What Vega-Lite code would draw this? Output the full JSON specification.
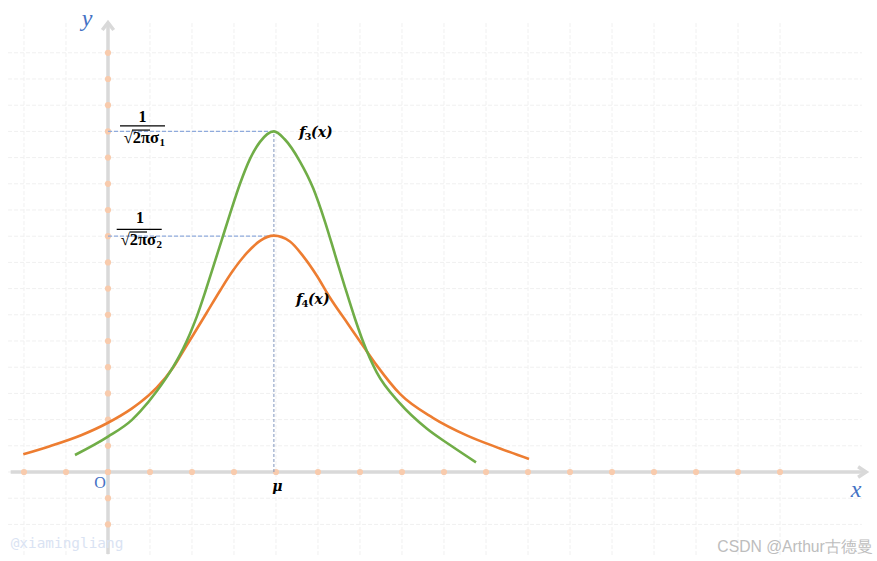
{
  "$schema": "https://vega.github.io/schema/vega-lite/v6.json",
  "width": 877,
  "height": 561,
  "autosize": "none",
  "padding": 0,
  "background": "white",
  "config": {"view": {"stroke": null}},
  "datasets": {
    "xt": [{"x":-2},{"x":-1},{"x":0},{"x":1},{"x":2},{"x":3},{"x":4},{"x":5},{"x":6},{"x":7},{"x":8},{"x":9},{"x":10},{"x":11},{"x":12},{"x":13},{"x":14},{"x":15},{"x":16}],
    "yt": [{"y":-2},{"y":-1},{"y":0},{"y":1},{"y":2},{"y":3},{"y":4},{"y":5},{"y":6},{"y":7},{"y":8},{"y":9},{"y":10},{"y":11},{"y":12},{"y":13},{"y":14},{"y":15},{"y":16}],
    "axes": [
      {"x":-2.317,"x2":18.05,"y":0,"y2":0},
      {"x":0,"x2":0,"y":-3.13,"y2":17.15}
    ],
    "refs": [
      {"x":0,"x2":3.95,"y":13,"y2":13},
      {"x":0,"x2":3.95,"y":9,"y2":9}
    ],
    "vref": [{"x":3.95,"x2":3.95,"y":0,"y2":13}],
    "bars": [
      {"x":0.286,"x2":1.357,"y":13.21,"y2":13.21},
      {"x":0.207,"x2":1.279,"y":9.26,"y2":9.26},
      {"x":0.571,"x2":1.0,"y":13.05,"y2":13.05},
      {"x":0.512,"x2":0.929,"y":9.16,"y2":9.16}
    ],
    "curves": [
      {"s":"f4","x":-2.017,"y":0.676},
      {"s":"f4","x":-1.421,"y":0.966},
      {"s":"f4","x":-0.626,"y":1.412},
      {"s":"f4","x":0,"y":1.88},
      {"s":"f4","x":0.564,"y":2.42},
      {"s":"f4","x":0.762,"y":2.65},
      {"s":"f4","x":1.16,"y":3.22},
      {"s":"f4","x":1.555,"y":4.0},
      {"s":"f4","x":1.793,"y":4.62},
      {"s":"f4","x":2.031,"y":5.24},
      {"s":"f4","x":2.35,"y":6.08},
      {"s":"f4","x":2.667,"y":6.92},
      {"s":"f4","x":2.964,"y":7.66},
      {"s":"f4","x":3.302,"y":8.35},
      {"s":"f4","x":3.619,"y":8.82},
      {"s":"f4","x":3.95,"y":9.02},
      {"s":"f4","x":4.333,"y":8.8},
      {"s":"f4","x":4.65,"y":8.23},
      {"s":"f4","x":4.969,"y":7.5},
      {"s":"f4","x":5.286,"y":6.65},
      {"s":"f4","x":5.714,"y":5.65},
      {"s":"f4","x":6.079,"y":4.8},
      {"s":"f4","x":6.398,"y":4.07},
      {"s":"f4","x":6.952,"y":2.98},
      {"s":"f4","x":7.745,"y":2.06},
      {"s":"f4","x":8.54,"y":1.4},
      {"s":"f4","x":9.333,"y":0.9},
      {"s":"f4","x":10.024,"y":0.496},
      {"s":"f3","x":-0.786,"y":0.649},
      {"s":"f3","x":0,"y":1.35},
      {"s":"f3","x":0.564,"y":1.98},
      {"s":"f3","x":0.762,"y":2.3},
      {"s":"f3","x":1.16,"y":3.08},
      {"s":"f3","x":1.555,"y":4.02},
      {"s":"f3","x":1.793,"y":4.72},
      {"s":"f3","x":1.952,"y":5.28},
      {"s":"f3","x":2.112,"y":5.92},
      {"s":"f3","x":2.31,"y":6.85},
      {"s":"f3","x":2.469,"y":7.65},
      {"s":"f3","x":2.707,"y":8.85},
      {"s":"f3","x":2.905,"y":9.85},
      {"s":"f3","x":3.143,"y":11.0},
      {"s":"f3","x":3.381,"y":11.95},
      {"s":"f3","x":3.619,"y":12.6},
      {"s":"f3","x":3.952,"y":13.0},
      {"s":"f3","x":4.207,"y":12.7},
      {"s":"f3","x":4.571,"y":11.85},
      {"s":"f3","x":4.888,"y":10.82},
      {"s":"f3","x":5.167,"y":9.55},
      {"s":"f3","x":5.405,"y":8.3},
      {"s":"f3","x":5.643,"y":7.05},
      {"s":"f3","x":5.881,"y":5.85},
      {"s":"f3","x":6.079,"y":4.95},
      {"s":"f3","x":6.398,"y":3.8},
      {"s":"f3","x":6.952,"y":2.62},
      {"s":"f3","x":7.588,"y":1.66},
      {"s":"f3","x":8.143,"y":1.03},
      {"s":"f3","x":8.762,"y":0.37}
    ],
    "labels": [
      {"k":"axis","x":-0.5,"y":17.02,"t":"y"},
      {"k":"axis","x":17.81,"y":-0.943,"t":"x"},
      {"k":"origin","x":-0.19,"y":-0.62,"t":"O"},
      {"k":"mu","x":4.03,"y":-0.725,"t":"μ"},
      {"k":"num","x":0.82,"y":13.37,"t":"1"},
      {"k":"num","x":0.762,"y":9.49,"t":"1"},
      {"k":"wm1","x":-2.317,"y":-2.9,"t":"@xiamingliang"},
      {"k":"wm2","x":18.21,"y":-3.04,"t":"CSDN @Arthur古德曼"}
    ],
    "fn": [
      {"x":4.81,"y":12.805,"sub":"3"},
      {"x":4.738,"y":6.393,"sub":"4"}
    ],
    "den": [
      {"x":1.214,"y":12.546,"sub":"1"},
      {"x":1.143,"y":8.664,"sub":"2"}
    ]
  },
  "layer": [
    {
      "data": {"name": "xt"},
      "mark": {"type": "rule", "color": "#f0f0f0", "strokeWidth": 1, "strokeDash": [4, 2]},
      "encoding": {
        "x": {"field": "x", "type": "quantitative", "scale": {"domain": [-2.5714, 18.3095], "nice": false, "zero": false}, "axis": null},
        "y": {"datum": -3.17, "type": "quantitative", "scale": {"domain": [-3.397, 18.015], "nice": false, "zero": false}, "axis": null},
        "y2": {"datum": 17.15}
      }
    },
    {
      "data": {"name": "yt"},
      "mark": {"type": "rule", "color": "#f0f0f0", "strokeWidth": 1, "strokeDash": [4, 2]},
      "encoding": {
        "x": {"datum": -2.38, "type": "quantitative", "scale": {"domain": [-2.5714, 18.3095], "nice": false, "zero": false}, "axis": null},
        "x2": {"datum": 17.95},
        "y": {"field": "y", "type": "quantitative", "scale": {"domain": [-3.397, 18.015], "nice": false, "zero": false}, "axis": null}
      }
    },
    {
      "data": {"name": "axes"},
      "mark": {"type": "rule", "color": "#d9d9d9", "strokeWidth": 3.5},
      "encoding": {
        "x": {"field": "x", "type": "quantitative", "scale": {"domain": [-2.5714, 18.3095], "nice": false, "zero": false}, "axis": null},
        "y": {"field": "y", "type": "quantitative", "scale": {"domain": [-3.397, 18.015], "nice": false, "zero": false}, "axis": null},
        "x2": {"field": "x2"},
        "y2": {"field": "y2"}
      }
    },
    {
      "data": {"values": [{"a": 1}]},
      "mark": {"type": "point", "shape": "M-1,-0.65L0,0L-1,0.65", "size": 256, "filled": false, "color": "#d9d9d9", "strokeWidth": 3.5, "opacity": 1},
      "encoding": {
        "x": {"datum": 18.05, "type": "quantitative", "scale": {"domain": [-2.5714, 18.3095], "nice": false, "zero": false}, "axis": null},
        "y": {"datum": 0, "type": "quantitative", "scale": {"domain": [-3.397, 18.015], "nice": false, "zero": false}, "axis": null}
      }
    },
    {
      "data": {"values": [{"a": 1}]},
      "mark": {"type": "point", "shape": "M-0.78,1L0,0L0.78,1", "size": 213, "filled": false, "color": "#d9d9d9", "strokeWidth": 3.5, "opacity": 1},
      "encoding": {
        "x": {"datum": 0, "type": "quantitative", "scale": {"domain": [-2.5714, 18.3095], "nice": false, "zero": false}, "axis": null},
        "y": {"datum": 17.15, "type": "quantitative", "scale": {"domain": [-3.397, 18.015], "nice": false, "zero": false}, "axis": null}
      }
    },
    {
      "data": {"name": "xt"},
      "mark": {"type": "circle", "color": "#f8cbad", "size": 38, "opacity": 1},
      "encoding": {
        "x": {"field": "x", "type": "quantitative", "scale": {"domain": [-2.5714, 18.3095], "nice": false, "zero": false}, "axis": null},
        "y": {"datum": 0, "type": "quantitative", "scale": {"domain": [-3.397, 18.015], "nice": false, "zero": false}, "axis": null}
      }
    },
    {
      "data": {"name": "yt"},
      "mark": {"type": "circle", "color": "#f8cbad", "size": 38, "opacity": 1},
      "encoding": {
        "x": {"datum": 0, "type": "quantitative", "scale": {"domain": [-2.5714, 18.3095], "nice": false, "zero": false}, "axis": null},
        "y": {"field": "y", "type": "quantitative", "scale": {"domain": [-3.397, 18.015], "nice": false, "zero": false}, "axis": null}
      }
    },
    {
      "data": {"name": "refs"},
      "mark": {"type": "rule", "color": "#8faadc", "strokeWidth": 1.2, "strokeDash": [4, 2]},
      "encoding": {
        "x": {"field": "x", "type": "quantitative", "scale": {"domain": [-2.5714, 18.3095], "nice": false, "zero": false}, "axis": null},
        "y": {"field": "y", "type": "quantitative", "scale": {"domain": [-3.397, 18.015], "nice": false, "zero": false}, "axis": null},
        "x2": {"field": "x2"},
        "y2": {"field": "y2"}
      }
    },
    {
      "data": {"name": "vref"},
      "mark": {"type": "rule", "color": "#7f95bd", "strokeWidth": 1, "strokeDash": [3, 2]},
      "encoding": {
        "x": {"field": "x", "type": "quantitative", "scale": {"domain": [-2.5714, 18.3095], "nice": false, "zero": false}, "axis": null},
        "y": {"field": "y", "type": "quantitative", "scale": {"domain": [-3.397, 18.015], "nice": false, "zero": false}, "axis": null},
        "x2": {"field": "x2"},
        "y2": {"field": "y2"}
      }
    },
    {
      "data": {"name": "bars"},
      "mark": {"type": "rule", "color": "#000000", "strokeWidth": 1.2},
      "encoding": {
        "x": {"field": "x", "type": "quantitative", "scale": {"domain": [-2.5714, 18.3095], "nice": false, "zero": false}, "axis": null},
        "y": {"field": "y", "type": "quantitative", "scale": {"domain": [-3.397, 18.015], "nice": false, "zero": false}, "axis": null},
        "x2": {"field": "x2"},
        "y2": {"field": "y2"}
      }
    },
    {
      "data": {"name": "curves"},
      "transform": [{"filter": "datum.s === 'f4'"}],
      "mark": {"type": "line", "color": "#ed7d31", "strokeWidth": 2.6, "interpolate": "monotone"},
      "encoding": {
        "x": {"field": "x", "type": "quantitative", "scale": {"domain": [-2.5714, 18.3095], "nice": false, "zero": false}, "axis": null},
        "y": {"field": "y", "type": "quantitative", "scale": {"domain": [-3.397, 18.015], "nice": false, "zero": false}, "axis": null},
        "order": {"field": "x", "type": "quantitative"}
      }
    },
    {
      "data": {"name": "curves"},
      "transform": [{"filter": "datum.s === 'f3'"}],
      "mark": {"type": "line", "color": "#70ad47", "strokeWidth": 2.6, "interpolate": "monotone"},
      "encoding": {
        "x": {"field": "x", "type": "quantitative", "scale": {"domain": [-2.5714, 18.3095], "nice": false, "zero": false}, "axis": null},
        "y": {"field": "y", "type": "quantitative", "scale": {"domain": [-3.397, 18.015], "nice": false, "zero": false}, "axis": null},
        "order": {"field": "x", "type": "quantitative"}
      }
    },
    {
      "data": {"name": "labels"},
      "transform": [{"filter": "datum.k === 'axis'"}],
      "mark": {"type": "text", "font": "Liberation Serif", "fontStyle": "italic", "fontSize": 24, "color": "#4472c4", "align": "center", "baseline": "alphabetic"},
      "encoding": {
        "x": {"field": "x", "type": "quantitative", "scale": {"domain": [-2.5714, 18.3095], "nice": false, "zero": false}, "axis": null},
        "y": {"field": "y", "type": "quantitative", "scale": {"domain": [-3.397, 18.015], "nice": false, "zero": false}, "axis": null},
        "text": {"field": "t"}
      }
    },
    {
      "data": {"name": "labels"},
      "transform": [{"filter": "datum.k === 'origin'"}],
      "mark": {"type": "text", "font": "Liberation Serif", "fontSize": 16, "color": "#4472c4", "align": "center", "baseline": "alphabetic"},
      "encoding": {
        "x": {"field": "x", "type": "quantitative", "scale": {"domain": [-2.5714, 18.3095], "nice": false, "zero": false}, "axis": null},
        "y": {"field": "y", "type": "quantitative", "scale": {"domain": [-3.397, 18.015], "nice": false, "zero": false}, "axis": null},
        "text": {"field": "t"}
      }
    },
    {
      "data": {"name": "labels"},
      "transform": [{"filter": "datum.k === 'mu'"}],
      "mark": {"type": "text", "font": "DejaVu Serif", "fontStyle": "italic", "fontWeight": "bold", "fontSize": 14, "color": "#000000", "align": "center", "baseline": "alphabetic"},
      "encoding": {
        "x": {"field": "x", "type": "quantitative", "scale": {"domain": [-2.5714, 18.3095], "nice": false, "zero": false}, "axis": null},
        "y": {"field": "y", "type": "quantitative", "scale": {"domain": [-3.397, 18.015], "nice": false, "zero": false}, "axis": null},
        "text": {"field": "t"}
      }
    },
    {
      "data": {"name": "labels"},
      "transform": [{"filter": "datum.k === 'num'"}],
      "mark": {"type": "text", "font": "Liberation Serif", "fontWeight": "bold", "fontSize": 16, "color": "#000000", "align": "center", "baseline": "alphabetic"},
      "encoding": {
        "x": {"field": "x", "type": "quantitative", "scale": {"domain": [-2.5714, 18.3095], "nice": false, "zero": false}, "axis": null},
        "y": {"field": "y", "type": "quantitative", "scale": {"domain": [-3.397, 18.015], "nice": false, "zero": false}, "axis": null},
        "text": {"field": "t"}
      }
    },
    {
      "data": {"name": "fn"},
      "mark": {"type": "text", "font": "DejaVu Serif", "fontStyle": "italic", "fontWeight": "bold", "fontSize": 15, "color": "#000000", "align": "right", "baseline": "alphabetic", "dx": -4.5},
      "encoding": {
        "x": {"field": "x", "type": "quantitative", "scale": {"domain": [-2.5714, 18.3095], "nice": false, "zero": false}, "axis": null},
        "y": {"field": "y", "type": "quantitative", "scale": {"domain": [-3.397, 18.015], "nice": false, "zero": false}, "axis": null},
        "text": {"value": "f"}
      }
    },
    {
      "data": {"name": "fn"},
      "mark": {"type": "text", "font": "DejaVu Serif", "fontWeight": "bold", "fontSize": 10, "color": "#000000", "align": "center", "baseline": "alphabetic", "dx": -2, "dy": 3},
      "encoding": {
        "x": {"field": "x", "type": "quantitative", "scale": {"domain": [-2.5714, 18.3095], "nice": false, "zero": false}, "axis": null},
        "y": {"field": "y", "type": "quantitative", "scale": {"domain": [-3.397, 18.015], "nice": false, "zero": false}, "axis": null},
        "text": {"field": "sub"}
      }
    },
    {
      "data": {"name": "fn"},
      "mark": {"type": "text", "font": "DejaVu Serif", "fontStyle": "italic", "fontWeight": "bold", "fontSize": 14, "color": "#000000", "align": "left", "baseline": "alphabetic", "dx": 1},
      "encoding": {
        "x": {"field": "x", "type": "quantitative", "scale": {"domain": [-2.5714, 18.3095], "nice": false, "zero": false}, "axis": null},
        "y": {"field": "y", "type": "quantitative", "scale": {"domain": [-3.397, 18.015], "nice": false, "zero": false}, "axis": null},
        "text": {"value": "(x)"}
      }
    },
    {
      "data": {"name": "den"},
      "mark": {"type": "text", "font": "Liberation Serif", "fontWeight": "bold", "fontSize": 16.5, "color": "#000000", "align": "right", "baseline": "alphabetic"},
      "encoding": {
        "x": {"field": "x", "type": "quantitative", "scale": {"domain": [-2.5714, 18.3095], "nice": false, "zero": false}, "axis": null},
        "y": {"field": "y", "type": "quantitative", "scale": {"domain": [-3.397, 18.015], "nice": false, "zero": false}, "axis": null},
        "text": {"value": "√2πσ"}
      }
    },
    {
      "data": {"name": "den"},
      "mark": {"type": "text", "font": "Liberation Serif", "fontWeight": "bold", "fontSize": 11, "color": "#000000", "align": "left", "baseline": "alphabetic", "dx": 0.5, "dy": 3},
      "encoding": {
        "x": {"field": "x", "type": "quantitative", "scale": {"domain": [-2.5714, 18.3095], "nice": false, "zero": false}, "axis": null},
        "y": {"field": "y", "type": "quantitative", "scale": {"domain": [-3.397, 18.015], "nice": false, "zero": false}, "axis": null},
        "text": {"field": "sub"}
      }
    },
    {
      "data": {"name": "labels"},
      "transform": [{"filter": "datum.k === 'wm1'"}],
      "mark": {"type": "text", "font": "DejaVu Sans Mono", "fontSize": 14.4, "color": "#dae3f3", "align": "left", "baseline": "alphabetic"},
      "encoding": {
        "x": {"field": "x", "type": "quantitative", "scale": {"domain": [-2.5714, 18.3095], "nice": false, "zero": false}, "axis": null},
        "y": {"field": "y", "type": "quantitative", "scale": {"domain": [-3.397, 18.015], "nice": false, "zero": false}, "axis": null},
        "text": {"field": "t"}
      }
    },
    {
      "data": {"name": "labels"},
      "transform": [{"filter": "datum.k === 'wm2'"}],
      "mark": {"type": "text", "font": "Liberation Sans", "fontSize": 15.7, "color": "#bdbdbd", "align": "right", "baseline": "alphabetic"},
      "encoding": {
        "x": {"field": "x", "type": "quantitative", "scale": {"domain": [-2.5714, 18.3095], "nice": false, "zero": false}, "axis": null},
        "y": {"field": "y", "type": "quantitative", "scale": {"domain": [-3.397, 18.015], "nice": false, "zero": false}, "axis": null},
        "text": {"field": "t"}
      }
    }
  ]
}
